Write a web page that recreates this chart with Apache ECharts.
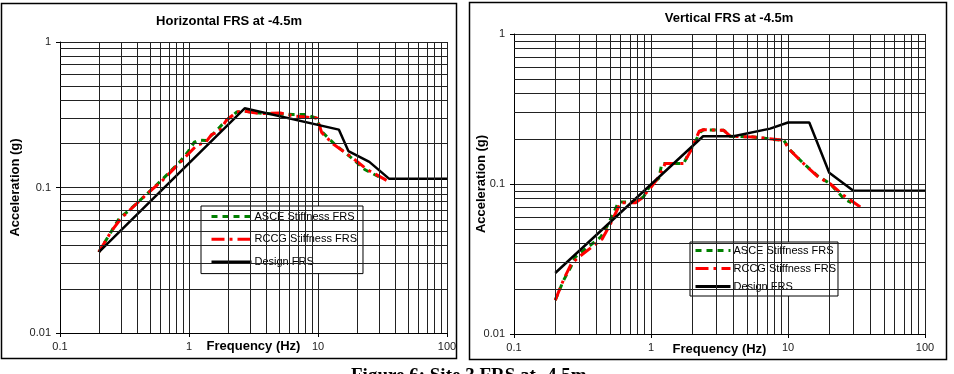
<!DOCTYPE html>
<html>
<head>
<meta charset="utf-8">
<script src="https://cdn.jsdelivr.net/npm/echarts@6/dist/echarts.min.js"></script>
<style>
html, body { margin: 0; padding: 0; background: #fff; }
#container { width: 954px; height: 374px; }
</style>
</head>
<body>
<div id="container"></div>
<script>
// Horizontal FRS at -4.5m
var hDesignFreq = [0.2, 2.7, 14.5, 17.2, 25, 35.5, 100];
var hDesignAcc = [0.036, 0.35, 0.25, 0.178, 0.15, 0.115, 0.115];
var hAsceFreq = [0.2, 0.24, 0.29, 0.34, 0.47, 0.63, 0.85, 0.99, 1.1, 1.2, 1.35, 1.55, 1.95, 2.35, 2.7, 3.5, 5.0, 6.4, 7.9, 9.7, 10.7, 13.5, 18.3, 23, 31];
var hAsceAcc = [0.036, 0.047, 0.062, 0.069, 0.09, 0.115, 0.15, 0.178, 0.205, 0.212, 0.21, 0.235, 0.29, 0.33, 0.335, 0.325, 0.32, 0.318, 0.318, 0.3, 0.242, 0.198, 0.159, 0.133, 0.116];
var hRccgFreq = [0.2, 0.25, 0.3, 0.36, 0.47, 0.63, 0.85, 1.0, 1.15, 1.35, 1.5, 1.7, 1.95, 2.35, 2.7, 3.6, 5.1, 6.5, 8.0, 9.8, 10.7, 13.2, 18.8, 24, 34];
var hRccgAcc = [0.036, 0.05, 0.062, 0.072, 0.09, 0.113, 0.148, 0.172, 0.195, 0.205, 0.232, 0.24, 0.29, 0.33, 0.335, 0.322, 0.325, 0.31, 0.305, 0.3, 0.238, 0.198, 0.158, 0.133, 0.112];

// Vertical FRS at -4.5m
var vDesignFreq = [0.2, 2.4, 4.0, 7.4, 10, 14.3, 20, 30, 100];
var vDesignAcc = [0.0255, 0.208, 0.208, 0.234, 0.257, 0.257, 0.119, 0.09, 0.09];
var vAsceFreq = [0.2, 0.23, 0.26, 0.28, 0.36, 0.43, 0.49, 0.58, 0.77, 0.88, 0.99, 1.14, 1.2, 1.73, 1.94, 2.29, 2.42, 3.4, 3.8, 5.6, 8.3, 9.3, 10.4, 13, 16.3, 20.4, 25.5, 29];
var vAsceAcc = [0.0168, 0.0228, 0.028, 0.0326, 0.039, 0.0443, 0.0545, 0.076, 0.076, 0.082, 0.098, 0.109, 0.137, 0.137, 0.168, 0.222, 0.23, 0.228, 0.208, 0.206, 0.197, 0.196, 0.168, 0.137, 0.114, 0.1, 0.08, 0.075];
var vRccgFreq = [0.2, 0.23, 0.26, 0.29, 0.37, 0.44, 0.5, 0.6, 0.77, 0.85, 1.0, 1.15, 1.27, 1.73, 1.94, 2.25, 2.4, 3.4, 3.8, 5.6, 8.3, 9.3, 10.2, 13.2, 16.5, 20.4, 25, 33.7];
var vRccgAcc = [0.0168, 0.023, 0.029, 0.032, 0.038, 0.043, 0.053, 0.075, 0.075, 0.08, 0.095, 0.113, 0.137, 0.137, 0.165, 0.225, 0.23, 0.228, 0.208, 0.206, 0.198, 0.196, 0.17, 0.135, 0.112, 0.1, 0.085, 0.0703];

// gridline positions inside each decade
var minorX = [0.2, 0.3, 0.4, 0.5, 0.6, 0.7, 0.8, 0.9, 2, 3, 4, 5, 6, 7, 8, 9, 20, 30, 40, 50, 60, 70, 80, 90];
var minorY = [0.02, 0.03, 0.04, 0.05, 0.06, 0.07, 0.08, 0.09, 0.2, 0.3, 0.4, 0.5, 0.6, 0.7, 0.8, 0.9];

var legendNames = ['ASCE Stiffness FRS', 'RCCG Stiffness FRS', 'Design FRS'];
var font = 'Liberation Sans, Arial, sans-serif';

function pairs(xs, ys) {
    return xs.map(function (x, i) { return [x, ys[i]]; });
}

function gridSeries(idx) {
    var lines = [];
    minorX.forEach(function (v) { lines.push({ xAxis: v }); });
    minorY.forEach(function (v) { lines.push({ yAxis: v }); });
    return {
        type: 'line', name: 'grid', xAxisIndex: idx, yAxisIndex: idx, data: [], silent: true, z: 1,
        markLine: {
            silent: true, animation: false, symbol: ['none', 'none'],
            label: { show: false },
            lineStyle: { color: '#222', width: 1, type: 'solid' },
            data: lines
        }
    };
}

function curve(name, idx, xs, ys, color, width, dash) {
    return {
        type: 'line', name: name, xAxisIndex: idx, yAxisIndex: idx,
        data: pairs(xs, ys), showSymbol: false, symbol: 'none', z: 3,
        lineStyle: { color: color, width: width, type: dash },
        itemStyle: { color: color }
    };
}

function xAxisFor(idx, gap) {
    return {
        type: 'log', logBase: 10, min: 0.1, max: 100, gridIndex: idx,
        name: 'Frequency (Hz)', nameLocation: 'middle', nameGap: gap, nameMoveOverlap: false,
        nameTextStyle: { fontFamily: font, fontSize: 13, fontWeight: 'bold', color: '#000' },
        axisLine: { lineStyle: { color: '#000', width: 1 } },
        axisTick: { show: true, length: 4, lineStyle: { color: '#000' } },
        axisLabel: { fontFamily: font, fontSize: 11, color: '#222', margin: 8 },
        splitLine: { show: true, lineStyle: { color: '#222', width: 1 } }
    };
}

function yAxisFor(idx, gap) {
    return {
        type: 'log', logBase: 10, min: 0.01, max: 1, gridIndex: idx,
        name: 'Acceleration (g)', nameLocation: 'middle', nameGap: gap, nameMoveOverlap: false,
        nameTextStyle: { fontFamily: font, fontSize: 13, fontWeight: 'bold', color: '#000' },
        axisLine: { show: true, lineStyle: { color: '#000', width: 1 } },
        axisTick: { show: true, length: 4, lineStyle: { color: '#000' } },
        axisLabel: { fontFamily: font, fontSize: 11, color: '#222', margin: 9 },
        splitLine: { show: true, lineStyle: { color: '#222', width: 1 } }
    };
}

var dom = document.getElementById('container');
var myChart = echarts.init(dom);

var option = {
    animation: false,
    backgroundColor: '#fff',
    textStyle: { fontFamily: font },
    title: [
        { text: 'Horizontal FRS at -4.5m', left: 229, top: 15, textAlign: 'center', padding: 0,
          textStyle: { fontFamily: font, fontSize: 13, fontWeight: 'bold', color: '#000' } },
        { text: 'Vertical FRS at -4.5m', left: 729, top: 12, textAlign: 'center', padding: 0,
          textStyle: { fontFamily: font, fontSize: 13, fontWeight: 'bold', color: '#000' } }
    ],
    legend: [
        { data: legendNames, orient: 'vertical', left: 201, top: 206, itemWidth: 40, itemHeight: 14, itemGap: 11.5,
          padding: [5, 6, 6, 9], backgroundColor: '#fff', borderColor: '#000', borderWidth: 1, borderRadius: 0,
          itemStyle: { opacity: 0 }, lineStyle: { width: 3 },
          selectedMode: false, textStyle: { fontFamily: font, fontSize: 11, color: '#000', padding: [0, 0, 0, -2] } },
        { data: legendNames, orient: 'vertical', left: 690, top: 242, itemWidth: 35, itemHeight: 12, itemGap: 7,
          padding: [3, 2, 4, 4], backgroundColor: '#fff', borderColor: '#000', borderWidth: 1, borderRadius: 0,
          itemStyle: { opacity: 0 }, lineStyle: { width: 3 },
          selectedMode: false, textStyle: { fontFamily: font, fontSize: 11, color: '#000', padding: [0, 0, 0, -2] } }
    ],
    grid: [
        { left: 60, top: 42, width: 387, height: 291 },
        { left: 514, top: 34, width: 411, height: 300 }
    ],
    xAxis: [xAxisFor(0, 7), xAxisFor(1, 9)],
    yAxis: [yAxisFor(0, 38), yAxisFor(1, 26)],
    series: [
        gridSeries(0),
        gridSeries(1),
        curve('ASCE Stiffness FRS', 0, hAsceFreq, hAsceAcc, '#008000', 3, [6, 5]),
        curve('RCCG Stiffness FRS', 0, hRccgFreq, hRccgAcc, '#ff0000', 3, [13, 5, 3, 5]),
        curve('Design FRS', 0, hDesignFreq, hDesignAcc, '#000', 2.5, 'solid'),
        curve('ASCE Stiffness FRS', 1, vAsceFreq, vAsceAcc, '#008000', 3, [6, 5]),
        curve('RCCG Stiffness FRS', 1, vRccgFreq, vRccgAcc, '#ff0000', 3, [13, 5, 3, 5]),
        curve('Design FRS', 1, vDesignFreq, vDesignAcc, '#000', 2.5, 'solid')
    ],
    graphic: [
        { type: 'rect', shape: { x: 1.5, y: 3.5, width: 455, height: 355 }, silent: true, z: 100,
          style: { fill: null, stroke: '#000', lineWidth: 1.5 } },
        { type: 'rect', shape: { x: 469.5, y: 2.5, width: 477, height: 357 }, silent: true, z: 100,
          style: { fill: null, stroke: '#000', lineWidth: 1.5 } },
        { type: 'text', left: 351, top: 367, silent: true,
          style: { text: 'Figure 6: Site 3 FRS at -4.5m', fill: '#000',
                   font: 'bold 19px "Liberation Serif", "Times New Roman", serif' } }
    ]
};

if (option && typeof option === "object") {
    myChart.setOption(option, true);
}
</script>
</body>
</html>
